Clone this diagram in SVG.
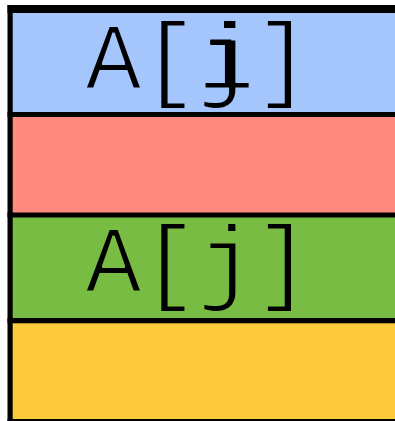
<svg xmlns="http://www.w3.org/2000/svg" width="395" height="421" viewBox="0 0 395 421">
<defs>
<filter id="thin" x="-10%" y="-10%" width="120%" height="120%">
<feMorphology operator="erode" radius="1.2"/>
</filter>
</defs>
<style>
.lbl{font-family:"Liberation Mono",monospace;font-size:94px;fill:#000;text-anchor:middle;filter:url(#thin)}
.bar{fill:#000}
</style>
<rect width="395" height="421" fill="#fff"/>
<g id="cell-1">
<rect x="10" y="9" width="385" height="105" fill="#a5c5fd"/>
<text class="lbl" x="198" y="89">A[j<tspan dx="-56.4">i</tspan>]</text>
</g>
<g id="cell-2">
<rect x="10" y="114" width="385" height="101" fill="#ff8a80"/>
</g>
<g id="cell-3">
<rect x="10" y="215" width="385" height="105" fill="#78bc43"/>
<text class="lbl" x="198" y="292">A[j]</text>
</g>
<g id="cell-4">
<rect x="10" y="320" width="385" height="101" fill="#fecb3c"/>
</g>
<g id="borders">
<rect class="bar" x="7.5" y="5" width="387.5" height="8"/>
<rect class="bar" x="7.5" y="5" width="5.2" height="416"/>
<rect class="bar" x="7.5" y="112" width="387.5" height="5"/>
<rect class="bar" x="7.5" y="212.5" width="387.5" height="5"/>
<rect class="bar" x="7.5" y="318" width="387.5" height="5.3"/>
<rect class="bar" x="7.5" y="419" width="387.5" height="2"/>
</g>
</svg>
